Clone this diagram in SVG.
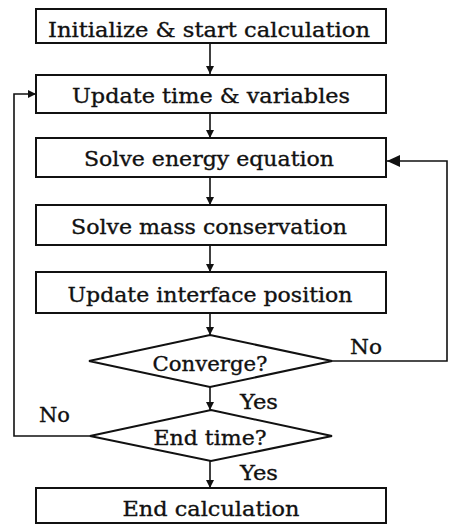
<svg xmlns="http://www.w3.org/2000/svg" width="451" height="526" viewBox="0 0 451 526">
<style>
.box{fill:#fff;stroke:#111;stroke-width:2}
.t{font-family:"DejaVu Serif","Liberation Serif",serif;font-size:21px;fill:#111;stroke:#111;stroke-width:0.35;text-anchor:middle}
.lbl{font-family:"DejaVu Serif","Liberation Serif",serif;font-size:21px;fill:#111;stroke:#111;stroke-width:0.35}
.c{fill:none;stroke:#111;stroke-width:1.6}
</style>
<defs>
<marker id="a" markerWidth="8" markerHeight="8" refX="8" refY="4" orient="auto" markerUnits="userSpaceOnUse"><path d="M0,0 L8,4 L0,8 Z" fill="#111"/></marker>
<marker id="b" markerWidth="13" markerHeight="12" refX="13" refY="6" orient="auto" markerUnits="userSpaceOnUse"><path d="M0,0 L13,6 L0,12 Z" fill="#111"/></marker>
</defs>
<rect width="451" height="526" fill="#fff"/>
<g id="connectors">
<line class="c" x1="210" y1="43" x2="210" y2="74" marker-end="url(#a)"/>
<line class="c" x1="210" y1="113" x2="210" y2="138" marker-end="url(#a)"/>
<line class="c" x1="210" y1="177" x2="210" y2="205" marker-end="url(#a)"/>
<line class="c" x1="210" y1="245" x2="210" y2="272" marker-end="url(#a)"/>
<line class="c" x1="210" y1="313" x2="210" y2="335" marker-end="url(#a)"/>
<line class="c" x1="210" y1="387" x2="210" y2="410" marker-end="url(#a)"/>
<line class="c" x1="210" y1="461" x2="210" y2="488" marker-end="url(#a)"/>
<polyline class="c" points="332,361 447,361 447,161 387,161" marker-end="url(#b)"/>
<polyline class="c" points="90,436 14,436 14,94 36,94" marker-end="url(#a)"/>
<text class="lbl" x="350" y="354" textLength="32" lengthAdjust="spacingAndGlyphs">No</text>
<text class="lbl" x="240" y="409" textLength="38" lengthAdjust="spacingAndGlyphs">Yes</text>
<text class="lbl" x="39" y="422" textLength="31" lengthAdjust="spacingAndGlyphs">No</text>
<text class="lbl" x="240" y="480" textLength="38" lengthAdjust="spacingAndGlyphs">Yes</text>
</g>
<g id="n1"><rect class="box" x="36" y="9" width="350" height="34"/><text class="t" x="209" y="37" textLength="322" lengthAdjust="spacingAndGlyphs">Initialize &amp; start calculation</text></g>
<g id="n2"><rect class="box" x="36" y="75" width="350" height="38"/><text class="t" x="211" y="103" textLength="278" lengthAdjust="spacingAndGlyphs">Update time &amp; variables</text></g>
<g id="n3"><rect class="box" x="36" y="138" width="350" height="39"/><text class="t" x="209" y="166" textLength="250" lengthAdjust="spacingAndGlyphs">Solve energy equation</text></g>
<g id="n4"><rect class="box" x="36" y="205" width="350" height="40"/><text class="t" x="209" y="234" textLength="276" lengthAdjust="spacingAndGlyphs">Solve mass conservation</text></g>
<g id="n5"><rect class="box" x="36" y="272" width="350" height="41"/><text class="t" x="210" y="302" textLength="285" lengthAdjust="spacingAndGlyphs">Update interface position</text></g>
<g id="d1"><polygon class="box" points="210,335 332,361 210,387 89,361"/><text class="t" x="210" y="371" textLength="115" lengthAdjust="spacingAndGlyphs">Converge?</text></g>
<g id="d2"><polygon class="box" points="211,410 332,436 211,461 90,436"/><text class="t" x="210" y="445" textLength="113" lengthAdjust="spacingAndGlyphs">End time?</text></g>
<g id="n6"><rect class="box" x="36" y="488" width="350" height="35"/><text class="t" x="211" y="516" textLength="177" lengthAdjust="spacingAndGlyphs">End calculation</text></g>
</svg>
